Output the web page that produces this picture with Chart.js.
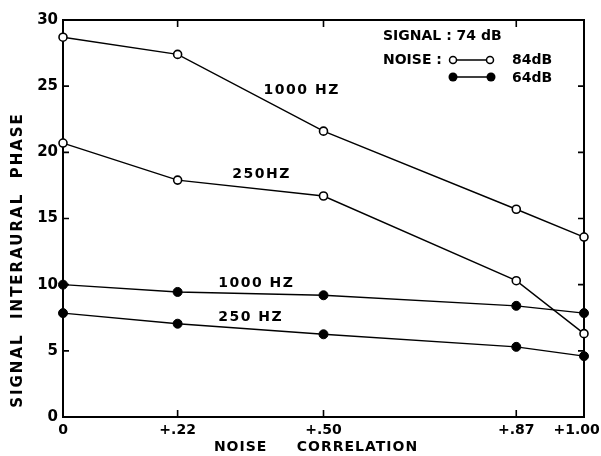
<!DOCTYPE html>
<html>
<head>
<meta charset="utf-8">
<script src="https://cdn.jsdelivr.net/npm/chart.js"></script>
<style>
  html, body { margin: 0; padding: 0; background: #fff; }
</style>
</head>
<body>
<canvas id="phase-chart" width="601" height="456"></canvas>
<script>
// noise correlation values (x) and their tick labels
const correlation = [0, 0.22, 0.50, 0.87, 1.00];
const xTickLabels = ['0', '+.22', '+.50', '+.87', '+1.00'];
const yTickValues = [0, 5, 10, 15, 20, 25, 30];

// signal interaural phase, noise 84 dB (open circles)
const phase1000Hz84 = [28.7, 27.4, 21.6, 15.7, 13.6];
const phase250Hz84 = [20.7, 17.9, 16.7, 10.3, 6.3];
// noise 64 dB (filled circles)
const phase1000Hz64 = [10.0, 9.45, 9.2, 8.4, 7.85];
const phase250Hz64 = [7.85, 7.05, 6.25, 5.3, 4.6];

// curve labels, placed in data units
const curveLabels = ['1000 HZ', '250HZ', '1000 HZ', '250 HZ'];
const curveLabelX = [0.385, 0.325, 0.298, 0.298];
const curveLabelY = [24.7, 18.3, 10.1, 7.5];

const FONT = '"DejaVu Sans", sans-serif';

function toPoints(ys) {
    return correlation.map((c, i) => ({ x: c, y: ys[i] }));
}

function series(label, ys, open) {
    return {
        label: label,
        data: toPoints(ys),
        borderColor: '#000',
        borderWidth: 1.4,
        pointRadius: open ? 4 : 4.5,
        pointBorderWidth: open ? 1.6 : 1,
        pointBackgroundColor: open ? '#fff' : '#000',
        pointBorderColor: '#000',
        tension: 0,
        clip: false
    };
}

const frameAndTicks = {
    id: 'frameAndTicks',
    beforeDatasetsDraw(chart) {
        const { ctx, chartArea: a, scales: { x, y } } = chart;
        ctx.save();
        ctx.strokeStyle = '#000';
        ctx.lineWidth = 2;
        ctx.strokeRect(a.left, a.top, a.right - a.left, a.bottom - a.top);
        ctx.lineWidth = 1.6;
        ctx.beginPath();
        correlation.slice(1, -1).forEach(v => {
            const px = x.getPixelForValue(v);
            ctx.moveTo(px, a.bottom); ctx.lineTo(px, a.bottom - 7);
            ctx.moveTo(px, a.top); ctx.lineTo(px, a.top + 7);
        });
        yTickValues.slice(1, -1).forEach(v => {
            const py = y.getPixelForValue(v);
            ctx.moveTo(a.left, py); ctx.lineTo(a.left + 6, py);
            ctx.moveTo(a.right, py); ctx.lineTo(a.right - 6, py);
        });
        ctx.stroke();
        ctx.restore();
    },
    afterDraw(chart) {
        const { ctx, scales: { x, y } } = chart;
        ctx.save();
        ctx.fillStyle = '#000';
        ctx.strokeStyle = '#000';
        ctx.font = 'bold 14px ' + FONT;
        ctx.textBaseline = 'middle';
        ctx.textAlign = 'left';

        // curve labels
        ctx.letterSpacing = '1.5px';
        curveLabels.forEach((t, i) => {
            ctx.fillText(t, x.getPixelForValue(curveLabelX[i]), y.getPixelForValue(curveLabelY[i]));
        });

        // key in the upper right
        ctx.letterSpacing = '0px';
        ctx.fillText('SIGNAL : 74 dB', 383, 36);
        ctx.fillText('NOISE :', 383, 60);
        ctx.fillText('84dB', 512, 60);
        ctx.fillText('64dB', 512, 78);
        ctx.lineWidth = 1.4;
        ctx.beginPath();
        ctx.moveTo(453, 60); ctx.lineTo(490, 60);
        ctx.moveTo(453, 77); ctx.lineTo(491, 77);
        ctx.stroke();
        [[453, 60], [490, 60]].forEach(([cx, cy]) => {
            ctx.beginPath(); ctx.arc(cx, cy, 3.5, 0, Math.PI * 2);
            ctx.fillStyle = '#fff'; ctx.fill();
            ctx.lineWidth = 1.5; ctx.stroke();
        });
        ctx.fillStyle = '#000';
        [[453, 77], [491, 77]].forEach(([cx, cy]) => {
            ctx.beginPath(); ctx.arc(cx, cy, 4.5, 0, Math.PI * 2); ctx.fill();
        });

        // axis titles
        ctx.textAlign = 'center';
        ctx.letterSpacing = '1px';
        ctx.fillText('NOISE     CORRELATION', 316, 447);
        ctx.font = 'bold 15px ' + FONT;
        ctx.translate(18, 260);
        ctx.rotate(-Math.PI / 2);
        ctx.letterSpacing = '2px';
        ctx.fillText('SIGNAL  INTERAURAL  PHASE', 0, 0);
        ctx.restore();
    }
};

const ctx = document.getElementById('phase-chart').getContext('2d');
const chart = new Chart(ctx, {
    type: 'line',
    data: {
        datasets: [
            series('1000 Hz, noise 84 dB', phase1000Hz84, true),
            series('250 Hz, noise 84 dB', phase250Hz84, true),
            series('1000 Hz, noise 64 dB', phase1000Hz64, false),
            series('250 Hz, noise 64 dB', phase250Hz64, false)
        ]
    },
    options: {
        responsive: false,
        animation: false,
        layout: { padding: { top: 20, right: 17, left: 0, bottom: 0 } },
        plugins: { legend: { display: false }, tooltip: { enabled: false } },
        scales: {
            x: {
                type: 'linear',
                min: 0,
                max: 1,
                afterBuildTicks: scale => { scale.ticks = correlation.map(v => ({ value: v })); },
                afterFit: scale => {
                    scale.height = 39;
                    scale.paddingLeft = 0;
                    scale.paddingRight = 0;
                },
                grid: { display: false, drawTicks: false },
                border: { display: false },
                ticks: {
                    padding: 5,
                    color: '#000',
                    font: { family: FONT, size: 14, weight: 'bold' },
                    maxRotation: 0,
                    autoSkip: false,
                    // last label sits against the canvas edge, so pad it to the left
                    callback: (v, i) => i === xTickLabels.length - 1 ? xTickLabels[i] + '   ' : xTickLabels[i]
                }
            },
            y: {
                min: 0,
                max: 30,
                afterBuildTicks: scale => { scale.ticks = yTickValues.map(v => ({ value: v })); },
                afterFit: scale => {
                    scale.width = 63;
                    scale.paddingTop = 0;
                    scale.paddingBottom = 0;
                },
                grid: { display: false, drawTicks: false },
                border: { display: false },
                ticks: {
                    padding: 5,
                    color: '#000',
                    font: { family: FONT, size: 15, weight: 'bold' }
                }
            }
        }
    },
    plugins: [frameAndTicks]
});
</script>
</body>
</html>
